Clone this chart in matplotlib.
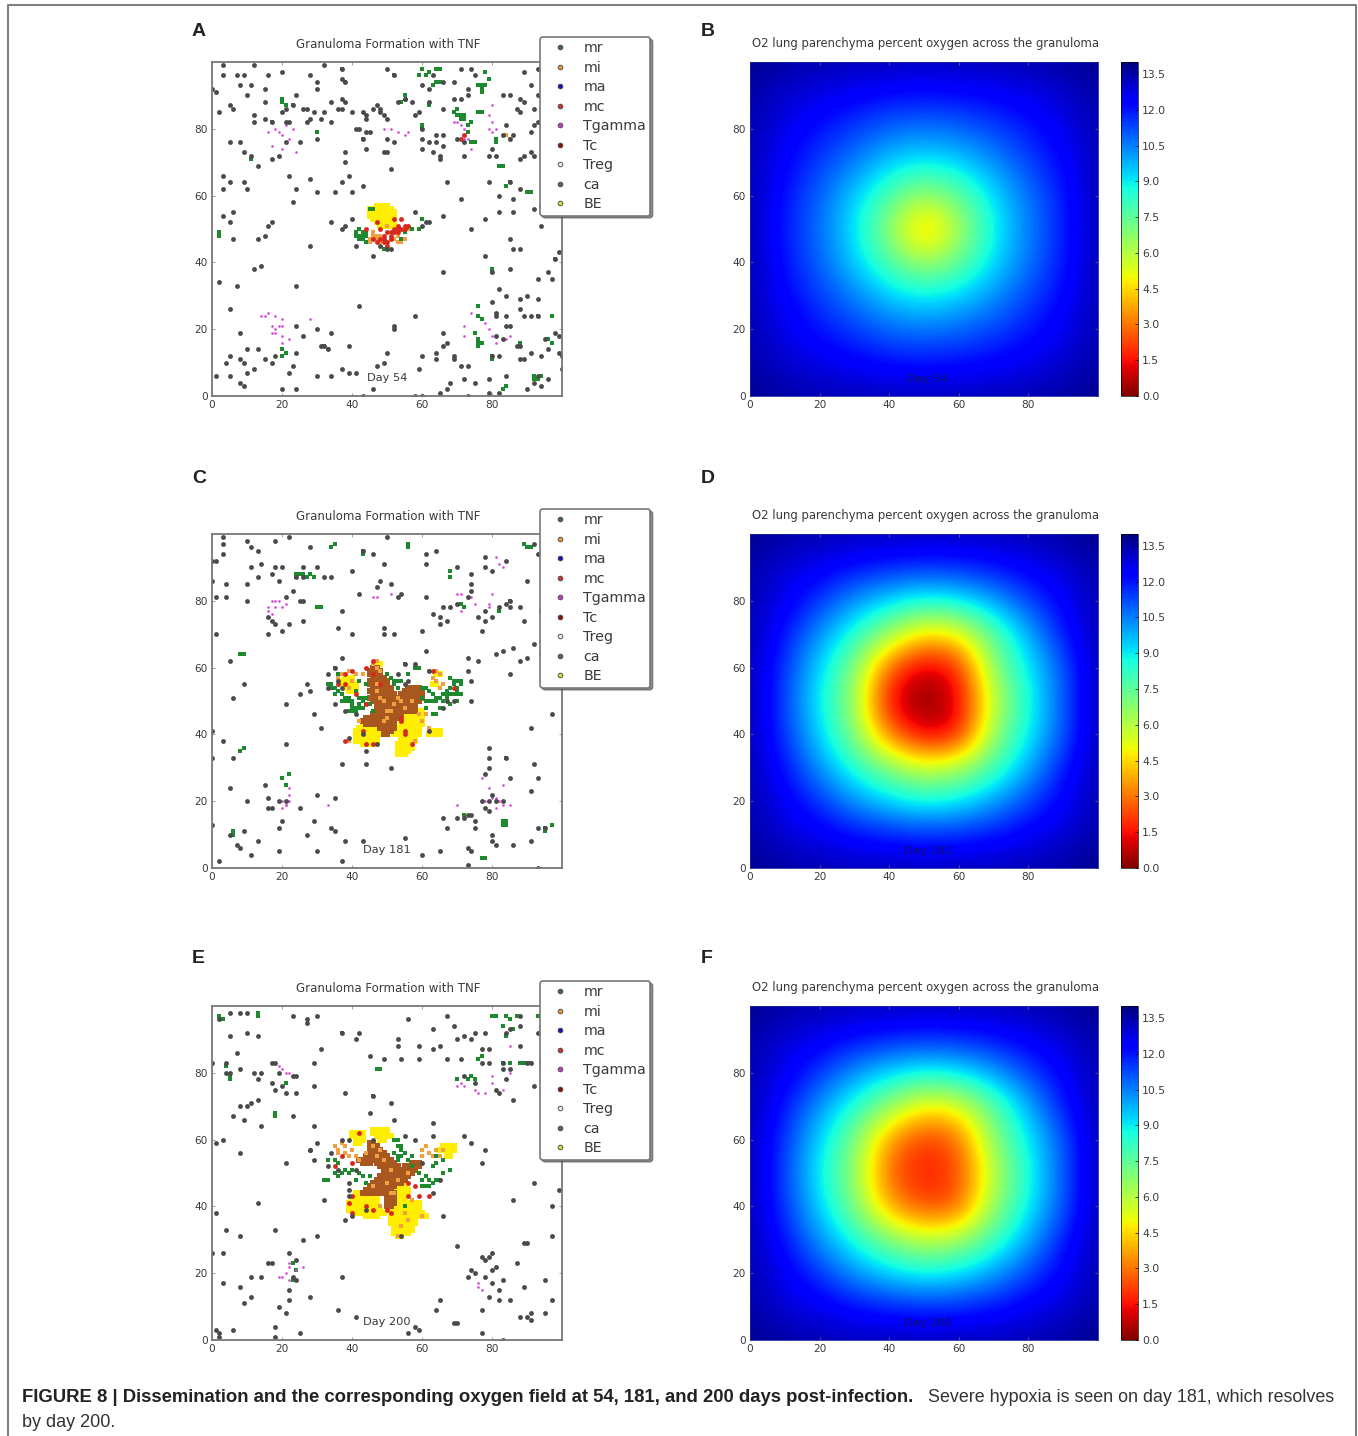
import matplotlib
matplotlib.use("Agg")
import matplotlib.pyplot as plt
from matplotlib.lines import Line2D
import numpy as np

W, H = 1358, 1436

# ---- panel A, day 54: (x, y) of the agents
ca_a = [(3,96),(7,96),(9,96),(16,96),(20,97),(28,96),(8,93),(11,93),(15,92),(0,92),(1,91),(30,94),(30,92),(37,95),(38,94),
        (32,99),(12,99),(3,99),(10,90),(24,90),(5,87),(6,86),(2,85),(15,88),(21,86),(23,87),(20,85),(26,86),(27,86),(29,85),
        (32,85),(34,88),(36,86),(37,86),(37,89),(38,88),(40,85),(43,85),(44,84),(44,83),(12,84),(12,82),(15,83),(17,82),(21,82),
        (22,82),(27,82),(28,83),(31,83),(34,82),(30,77),(41,80),(42,80),(43,77),(44,79),(45,79),(5,76),(8,76),(9,73),(11,72),
        (13,69),(17,71),(19,72),(21,76),(25,76),(38,73),(38,70),(44,74),(39,66),(37,64),(3,66),(5,64),(9,64),(10,62),(3,62),
        (22,66),(28,65),(24,62),(30,61),(35,61),(40,61),(43,63),(23,58),(3,54),(5,52),(6,55),(16,51),(17,52),(6,47),(13,47),
        (15,48),(28,45),(34,52),(37,50),(38,51),(40,53),(12,38),(14,39),(2,34),(7,33),(24,33),(5,26),(8,19),(5,12),(4,10),
        (8,11),(9,10),(10,14),(13,14),(15,11),(12,8),(10,7),(17,10),(18,12),(24,21),(26,18),(24,13),(23,9),(22,7),(1,6),(5,6),
        (8,4),(9,3),(20,2),(24,2),(30,20),(32,15),(31,15),(33,14),(34,19),(39,15),(30,6),(34,6),(37,8),(39,7),(41,7),(42,27),
        (52,20),(52,21),(50,13),(49,10),(47,9),(46,2),(43,0),(58,24),(59,8),(60,12),(64,13),(64,11),(66,19),(66,15),(67,16),
        (69,12),(69,11),(71,9),(73,9),(72,5),(68,4),(67,2),(65,1),(58,0),(60,0),(73,0),(75,4),(79,5),(79,1),(66,37),(74,50),
        (78,42),(78,53),(80,37),(85,38),(85,47),(86,44),(88,44),(82,32),(80,28),(81,25),(81,24),(84,24),(84,21),(81,18),(85,21),
        (83,17),(80,12),(82,12),(84,30),(88,29),(90,30),(88,26),(89,24),(91,24),(93,24),(93,29),(93,35),(97,35),(96,37),(99,43),
        (98,41),(95,17),(96,14),(99,13),(100,12),(99,18),(98,19),(94,12),(91,13),(88,11),(89,11),(87,15),(88,15),(93,6),(92,4),
        (94,3),(96,5),(90,2),(84,6),(82,1),(100,8),(67,64),(71,59),(66,54),(58,55),(60,51),(61,52),(62,52),(79,64),(82,60),
        (82,55),(86,55),(86,59),(85,64),(88,62),(92,56),(94,51),(94,57),(79,72),(81,72),(86,78),(89,72),(91,73),(88,71),(92,72),
        (95,76),(80,74),(85,77),(83,78),(84,81),(87,86),(88,85),(85,90),(83,90),(88,89),(89,88),(91,93),(89,97),(93,98),(93,90),
        (92,86),(91,79),(92,81),(93,82),(50,83),(53,88),(55,89),(57,88),(59,85),(58,84),(60,93),(63,96),(66,94),(62,92),(62,88),
        (66,86),(69,89),(71,89),(69,94),(71,98),(73,92),(73,90),(74,98),(75,96),(60,80),(60,77),(62,76),(64,78),(64,76),(66,78),
        (66,75),(70,77),(72,76),(60,74),(63,73),(65,72),(65,71),(72,72),(47,87),(46,86),(48,86),(48,85),(49,84),(41,45),(46,42),
        (50,44),(48,45),(51,44),(51,68),(50,73),(49,73),(50,77),(52,76),(37,98),(50,98),(52,96),(55,89)]
mr_a = [(20,89),(20,88),(21,87),(23,87),(2,49),(2,48),(11,71),(17,82),(37,98),(38,94),(30,79),(43,77),(20,14),(21,13),(20,12),
        (32,15),(33,14),(52,96),(55,90),(54,88),(59,96),(60,98),(61,96),(62,97),(63,93),(64,94),(65,94),(64,98),(65,98),(60,80),
        (60,81),(62,87),(70,86),(69,85),(70,84),(71,84),(72,84),(71,83),(72,83),(73,81),(74,82),(73,79),(74,76),(75,76),(76,85),
        (77,85),(76,93),(77,93),(78,93),(77,92),(77,91),(78,97),(79,95),(81,77),(81,76),(82,69),(83,69),(85,64),(84,63),(90,61),
        (91,61),(76,27),(76,24),(77,23),(75,19),(76,17),(76,16),(77,16),(76,15),(80,38),(80,37),(80,12),(80,11),(88,16),(93,24),
        (92,6),(93,5),(92,5),(94,6),(84,3),(83,2),(96,17),(97,16),(97,24),(98,41),(60,53),(41,49),(42,50),(43,48),(41,48),(42,48),
        (43,49),(44,48),(42,47),(43,47),(44,49),(44,46),(54,47),(55,49),(57,50),(59,50),(45,56),(46,56),(49,44)]
tg_a = [(18,80),(19,79),(21,81),(20,78),(22,77),(23,80),(16,79),(17,75),(20,74),(24,73),(49,80),(51,80),(53,79),(55,78),(56,79),
        (69,82),(70,82),(71,81),(72,80),(72,77),(73,77),(74,74),(80,82),(81,80),(80,79),(79,80),(79,84),(80,87),(14,24),(15,24),
        (16,25),(18,24),(20,23),(17,21),(18,20),(19,21),(20,21),(17,19),(18,19),(20,18),(22,17),(20,16),(28,23),(72,21),(72,18),
        (78,22),(79,20),(80,18),(81,16),(85,18),(84,17),(74,25)]
mc_a = [(44,50),(46,47),(47,46),(48,50),(49,48),(50,46),(50,45),(51,47),(51,49),(52,50),(53,51),(53,49),(54,50),(55,51),(54,53),
        (52,53),(47,52),(50,49),(49,47),(71,77),(72,78),(49,46),(51,48),(52,49),(48,47),(53,50),(55,50),(56,51)]
mi_a = [(45,47),(46,49),(45,46),(48,46),(53,46),(52,47),(55,47),(50,51),(47,48),(56,50),(85,77),(84,78),(48,48),(46,48),(47,47),(53,48),(54,46)]
be_a = [(47,57,50),(45,56,51),(45,55,52),(45,54,52),(46,53,52),(47,52,52),(48,51,52)]
be_a = [(x, y) for x0, y, x1 in be_a for x in range(x0, x1 + 1)]

# ---- panel C, day 181
ca_c = [(3,97),(3,94),(1,92),(10,98),(11,96),(13,95),(18,98),(22,99),(28,96),(3,99),(14,91),(11,90),(18,90),(20,90),(26,90),(30,90),
        (4,85),(10,85),(13,87),(17,88),(19,86),(0,86),(1,81),(4,81),(10,80),(0,92),(24,87),(26,87),(32,87),(34,87),(25,80),(26,80),
        (21,81),(23,83),(16,75),(17,74),(18,73),(20,71),(22,73),(26,74),(16,70),(1,70),(5,62),(37,77),(40,89),(40,70),(36,72),
        (49,70),(52,70),(49,72),(42,82),(53,81),(54,82),(61,91),(61,94),(64,95),(49,91),(50,99),(61,81),(63,76),(65,73),(65,75),
        (67,74),(60,71),(61,65),(43,95),(46,94),(48,86),(51,85),(47,84),(70,90),(74,88),(74,85),(74,83),(73,81),(70,79),(66,78),
        (68,78),(76,75),(78,74),(80,75),(78,77),(82,78),(85,78),(84,79),(85,80),(88,78),(89,74),(90,86),(93,94),(92,97),(78,93),
        (78,90),(80,89),(84,92),(77,71),(76,62),(73,63),(73,59),(74,56),(74,50),(81,64),(83,65),(86,66),(85,58),(88,62),(90,63),
        (92,67),(94,68),(94,64),(97,46),(91,42),(62,41),(51,30),(44,31),(37,31),(55,55),(56,56),(37,63),(25,52),(27,55),(28,53),
        (21,49),(29,46),(31,42),(39,39),(9,55),(6,51),(3,38),(0,41),(0,33),(6,33),(21,37),(5,24),(15,25),(16,21),(10,20),(16,18),
        (17,18),(19,20),(20,14),(21,20),(25,18),(29,14),(30,22),(35,21),(19,12),(34,12),(35,11),(5,10),(9,11),(7,7),(8,6),(11,4),
        (13,8),(19,5),(27,10),(30,5),(38,8),(43,8),(37,2),(2,2),(0,13),(55,9),(60,4),(65,5),(66,15),(67,12),(70,15),(72,15),
        (74,16),(75,14),(75,12),(74,5),(73,6),(73,1),(78,28),(79,33),(79,30),(79,36),(84,33),(85,27),(80,22),(79,20),(78,18),(77,20),
        (79,17),(81,20),(83,20),(80,10),(80,8),(81,7),(86,7),(91,8),(93,12),(95,12),(93,27),(91,23),(92,31),(93,0),(73,16),
        (33,58),(35,60),(33,54),(36,56),(37,54),(35,49),(38,47),(41,46),(44,35),(43,40),(47,37),(58,61),(55,61),(53,58),(62,59),(69,50),(67,50),(66,48)]
mr_c = [(8,64),(9,64),(34,96),(35,97),(43,95),(43,94),(56,97),(56,96),(24,88),(25,88),(26,88),(27,87),(28,88),(29,87),(24,87),
        (30,78),(31,78),(8,35),(9,36),(20,27),(22,28),(21,25),(6,11),(6,10),(83,14),(84,13),(84,14),(83,13),(84,33),(77,3),(78,3),
        (89,97),(90,96),(91,96),(94,77),(95,77),(97,13),(95,12),(95,11),(68,89),(68,87),(71,79),(72,78),(82,77),(85,80),(72,16),
        (34,54),(35,54),(36,53),(35,52),(37,52),(38,50),(39,51),(40,49),(41,48),(42,49),(39,47),(40,47),(41,47),(43,48),(44,49),
        (45,49),(43,50),(40,50),(37,50),(35,60),(36,58),(42,56),(44,55),(50,58),(51,57),(52,56),(53,56),(54,56),(56,58),(55,61),
        (58,60),(59,60),(60,54),(61,54),(62,50),(63,50),(64,50),(65,51),(66,52),(67,52),(66,50),(67,53),(68,57),(69,56),(70,56),
        (69,55),(70,54),(68,54),(69,52),(70,52),(71,52),(67,51),(63,46),(64,46),(68,49),(70,50),(62,53),(65,48),(41,53),(46,47),
        (33,55),(34,55),(38,51),(39,50),(42,51),(43,51),(44,51),(42,48),(40,48),(52,55),(53,54),(60,51),(61,50),(63,52),(64,51),(61,48),
        (68,52),(70,53),(71,55),(71,56)]
tg_c = [(16,78),(16,77),(17,80),(18,80),(18,78),(19,80),(20,78),(17,76),(21,79),(26,90),(22,24),(22,22),(20,20),(21,19),(20,18),
        (21,19),(22,20),(33,19),(46,81),(47,81),(51,82),(70,82),(71,82),(73,81),(74,81),(74,83),(75,79),(71,77),(80,82),(79,79),
        (79,78),(82,91),(83,90),(81,93),(78,20),(79,24),(80,21),(81,21),(82,20),(81,18),(83,19),(85,19),(77,27),(83,25),(70,19)]
mc_c = [(38,58),(40,59),(44,60),(46,62),(41,52),(38,55),(48,55),(46,58),(43,41),(44,37),(46,37),(55,40),(55,41),(57,37),(54,45),
        (63,59),(69,54),(44,49),(54,44),(36,55),(38,38)]
mi_c = [(36,57),(37,58),(39,59),(41,58),(43,58),(46,61),(47,60),(47,62),(48,59),(40,56),(39,54),(62,59),(64,59),(65,58),(63,57),
        (64,56),(66,55),(65,54),(60,44),(61,46),(62,42),(59,46),(58,38),(42,44),(39,38),(47,55),(52,49),(50,45),(49,50),(53,51),
        (47,53),(48,51),(51,47),(55,48),(57,50),(49,44),(50,47),(54,50)]
be_c = [(38,57,40),(37,56,40),(37,55,41),(38,54,41),(39,53,41),(64,58,65),(63,55,64),(55,47,60),(55,46,60),(54,45,60),(45,44,49),
        (54,44,60),(43,43,49),(54,43,60),(42,42,48),(53,42,59),(41,41,48),(53,41,59),(63,41,65),(41,40,48),(52,40,59),(62,40,65),
        (41,39,47),(54,39,58),(41,38,47),(54,38,58),(43,37,46),(53,37,57),(53,36,57),(53,35,56),(53,34,55),(47,61,48)]
be_c = [(x, y) for x0, y, x1 in be_c for x in range(x0, x1 + 1)]
br_c = [(46,60,47),(45,59,48),(45,58,48),(46,57,49),(45,56,50),(45,55,50),(46,54,51),(56,54,59),(45,53,51),(55,53,60),(46,52,52),
        (54,52,60),(45,51,52),(53,51,60),(46,50,59),(47,49,58),(47,48,58),(47,47,58),(46,46,54),(44,45,53),(43,44,52),(44,43,52),
        (48,42,52),(49,41,51),(49,40,50)]
br_c = [(x, y) for x0, y, x1 in br_c for x in range(x0, x1 + 1)]

# ---- panel E, day 200
ca_e = [(0,83),(2,96),(5,98),(8,98),(10,98),(23,97),(27,96),(27,95),(30,97),(5,91),(10,92),(13,91),(7,86),(4,83),(4,80),(5,80),
        (8,81),(12,80),(14,80),(13,78),(17,83),(18,83),(19,80),(23,79),(24,79),(29,76),(31,87),(17,77),(20,76),(21,74),(24,74),(18,75),
        (13,72),(11,71),(10,70),(8,70),(6,67),(9,66),(14,64),(23,67),(29,64),(1,59),(3,60),(8,56),(21,53),(28,57),(29,54),(30,59),
        (1,38),(13,41),(4,33),(8,31),(18,33),(26,30),(30,31),(0,26),(3,26),(3,17),(8,16),(11,19),(11,13),(9,11),(14,19),(16,23),
        (17,23),(22,26),(23,19),(24,18),(22,15),(22,12),(24,24),(28,13),(37,19),(19,10),(21,8),(18,4),(18,1),(25,2),(6,3),(1,3),
        (2,2),(2,1),(36,9),(41,7),(56,2),(58,4),(59,3),(64,9),(65,12),(69,5),(70,5),(77,9),(77,2),(83,0),(90,7),(91,8),(91,6),(95,8),
        (97,12),(95,18),(97,31),(90,29),(89,29),(97,40),(99,45),(92,47),(86,42),(70,28),(73,19),(75,20),(74,21),(78,19),(80,21),(81,22),
        (79,25),(78,24),(80,26),(77,25),(83,18),(82,15),(80,17),(79,13),(82,12),(85,12),(87,23),(89,16),(88,7),(66,37),(77,53),(78,57),
        (72,61),(74,59),(63,65),(63,61),(58,60),(55,61),(45,68),(51,71),(52,66),(46,73),(38,74),(42,92),(41,90),(37,92),(45,85),(49,84),
        (54,84),(53,90),(53,88),(56,96),(59,88),(59,84),(63,87),(63,93),(65,88),(67,84),(67,97),(69,94),(70,90),(71,84),(72,91),(74,90),
        (75,92),(78,92),(77,87),(79,87),(79,83),(83,83),(83,81),(85,81),(84,92),(85,93),(88,97),(88,94),(88,88),(91,83),(92,76),(93,92),
        (94,94),(94,83),(90,83),(86,72),(75,77),(72,79),(77,83),(84,78),(82,74),(81,75),(29,83),(37,60),(39,60),(28,57),
        (39,47),(39,45),(39,43),(38,36),(40,37),(44,39),(54,31),(32,42),(63,44),(65,48),(34,56),(33,52),(36,51),(41,51),(46,60),(60,53)]
mr_e = [(2,97),(3,96),(13,98),(13,97),(18,68),(18,67),(37,92),(4,82),(5,79),(5,78),(21,77),(80,97),(81,97),(84,97),(85,96),(83,94),
        (87,97),(93,97),(86,93),(84,91),(76,84),(77,85),(83,83),(85,83),(88,83),(89,83),(90,83),(91,83),(73,78),(74,79),(75,78),(70,78),
        (47,81),(48,81),(46,73),(23,18),(24,21),(23,23),(36,53),(35,54),(33,54),(38,51),(36,49),(40,51),(41,48),(44,47),(42,50),(45,49),
        (32,48),(33,48),(52,60),(53,60),(53,58),(54,57),(52,56),(53,55),(54,55),(53,54),(55,56),(57,55),(59,50),(60,48),(61,46),(62,46),
        (64,48),(65,48),(63,52),(64,53),(66,54),(68,51),(66,50),(64,55),(56,54),(55,40),(61,49),(62,48),(63,47),(60,46),(57,52),(54,58),
        (35,50),(37,50),(39,50),(43,49)]
tg_e = [(18,83),(19,82),(20,81),(21,80),(22,80),(20,19),(21,20),(22,22),(24,21),(26,22),(22,18),(19,19),(22,23),(70,76),(71,77),(72,76),
        (75,75),(76,74),(80,77),(80,79),(78,74),(85,88),(83,75),(76,16),(77,15),(76,17),(85,80)]
mc_e = [(35,52),(40,43),(39,41),(40,38),(44,40),(46,39),(50,39),(51,38),(56,43),(58,46),(59,43),(40,53),(37,55),(56,47),(42,62),(62,43)]
mi_e = [(35,58),(36,57),(38,56),(38,58),(40,57),(41,55),(42,54),(44,56),(46,58),(48,57),(60,57),(62,56),(65,55),(66,57),(60,55),(52,44),
        (57,42),(55,38),(56,36),(54,34),(53,31),(60,37),(46,46),(48,40),(49,54),(51,51),(53,48),(56,50),(50,47),(47,55),(51,44),(36,56),
        (37,59),(39,55),(61,58),(63,55),(64,57)]
be_e = [(40,62,43),(40,61,43),(41,60,43),(41,59,42),(46,63,50),(46,62,50),(47,61,51),(48,60,49),(66,58,69),(65,57,69),(67,56,68),
        (67,55,68),(53,46,55),(52,45,56),(41,44,47),(52,44,56),(41,43,47),(52,43,55),(40,42,47),(52,42,55),(39,41,47),(53,41,59),
        (39,40,47),(52,40,59),(39,39,48),(51,39,59),(41,38,49),(51,38,60),(44,37,47),(51,37,61),(51,36,58),(51,35,58),(52,34,57),
        (52,33,57),(52,32,56),(53,31,54)]
be_e = [(x, y) for x0, y, x1 in be_e for x in range(x0, x1 + 1)]
br_e = [(45,59,46),(45,58,47),(45,57,48),(46,56,49),(44,55,50),(42,54,51),(43,53,45),(47,53,52),(57,53,59),(48,52,53),(55,52,59),
        (49,51,58),(49,50,57),(48,49,56),(47,48,55),(46,47,54),(45,46,52),(44,45,51),(43,44,49),(50,44,52),(50,43,52),(50,42,52),
        (50,41,52),(50,40,51)]
br_e = [(x, y) for x0, y, x1 in br_e for x in range(x0, x1 + 1)]

# ---- oxygen fields, sampled every 10 units (rows y=0..100, columns x=0..100)
o2_b = [[13.8,13.5,13.4,13.3,13.3,13.3,13.3,13.3,13.4,13.5,13.8],
        [13.5,13.0,12.7,12.4,12.1,12.0,12.1,12.3,12.6,13.0,13.5],
        [13.4,12.7,12.0,11.4,10.8,10.6,10.8,11.3,11.9,12.6,13.4],
        [13.4,12.3,11.4,10.5,9.4,8.9,9.3,10.2,11.3,12.2,13.4],
        [13.4,12.0,10.9,9.4,7.8,6.3,7.4,9.2,10.6,11.9,13.4],
        [13.4,11.9,10.7,9.1,6.6,3.4,6.1,8.8,10.5,11.8,13.4],
        [13.4,12.0,10.9,9.4,7.8,6.3,7.4,9.2,10.6,11.9,13.4],
        [13.4,12.3,11.4,10.5,9.4,8.9,9.3,10.2,11.3,12.2,13.4],
        [13.4,12.7,12.0,11.4,10.8,10.6,10.8,11.3,11.9,12.6,13.4],
        [13.5,13.0,12.7,12.4,12.1,12.0,12.1,12.3,12.6,13.0,13.5],
        [13.8,13.5,13.4,13.3,13.3,13.3,13.3,13.3,13.4,13.5,13.8]]
o2_d = [[13.8,13.5,13.4,13.3,13.3,13.3,13.3,13.3,13.4,13.5,13.8],
        [13.5,12.9,12.6,12.1,11.8,11.6,11.7,12.0,12.5,12.9,13.5],
        [13.4,12.6,11.5,10.2,9.3,8.7,9.0,10.0,11.3,12.4,13.4],
        [13.4,12.0,10.2,8.5,6.9,5.6,6.3,7.9,9.8,11.9,13.4],
        [13.4,11.5,9.3,7.0,3.0,0.9,1.3,6.6,8.9,11.0,13.4],
        [13.4,11.3,8.9,6.6,1.1,0.0,1.0,5.8,8.6,11.0,13.4],
        [13.4,11.5,9.3,7.0,2.6,0.8,1.6,6.8,9.0,11.0,13.4],
        [13.4,12.0,10.2,8.5,6.5,4.4,5.0,7.6,9.8,11.9,13.4],
        [13.4,12.6,11.5,10.2,9.3,8.7,9.0,10.0,11.3,12.4,13.4],
        [13.5,12.9,12.6,12.1,11.8,11.6,11.7,12.0,12.5,12.9,13.5],
        [13.8,13.5,13.4,13.3,13.3,13.3,13.3,13.3,13.4,13.5,13.8]]
o2_f = [[13.8,13.5,13.4,13.3,13.3,13.3,13.3,13.3,13.4,13.5,13.8],
        [13.5,12.9,12.6,12.1,11.8,11.6,11.7,12.0,12.5,12.9,13.5],
        [13.4,12.6,11.5,10.2,9.3,8.8,9.1,10.0,11.3,12.4,13.4],
        [13.4,12.0,10.2,8.6,7.0,5.8,6.4,8.0,9.8,11.9,13.4],
        [13.4,11.5,9.3,7.1,3.6,2.2,2.4,6.6,8.9,11.0,13.4],
        [13.4,11.3,8.9,6.7,2.6,1.6,2.2,5.9,8.6,11.0,13.4],
        [13.4,11.5,9.3,7.1,3.4,2.0,2.6,6.8,9.0,11.0,13.4],
        [13.4,12.0,10.2,8.5,6.7,4.8,5.3,7.6,9.8,11.9,13.4],
        [13.4,12.6,11.5,10.2,9.3,8.8,9.1,10.0,11.3,12.4,13.4],
        [13.5,12.9,12.6,12.1,11.8,11.6,11.7,12.0,12.5,12.9,13.5],
        [13.8,13.5,13.4,13.3,13.3,13.3,13.3,13.3,13.4,13.5,13.8]]

legend_labels = ["mr", "mi", "ma", "mc", "Tgamma", "Tc", "Treg", "ca", "BE"]
legend_colors = ["#3c6a48", "#e8963c", "#1010c0", "#d8322a", "#c83cc8", "#8c1010", "#e8e8e8", "#4a6a50", "#d8d83c"]
ticks = [0, 20, 40, 60, 80]
cbar_ticks = [0.0, 1.5, 3.0, 4.5, 6.0, 7.5, 9.0, 10.5, 12.0, 13.5]

DARK = "#4a4a4a"
GREEN = "#1d8a30"
GRAY_TEXT = "#3a3a3a"


def axes_px(fig, x0, y0, x1, y1):
    """Axes from pixel corners, y measured from the top of the image."""
    return fig.add_axes([x0 / W, 1 - y1 / H, (x1 - x0) / W, (y1 - y0) / H])


def style_axes(ax, frame):
    ax.set_xlim(0, 100)
    ax.set_ylim(0, 100)
    ax.set_xticks(ticks)
    ax.set_yticks(ticks)
    ax.tick_params(labelsize=7.6, labelcolor=GRAY_TEXT, length=2.5, width=0.5, color="#777777",
                   direction="in", top=True, right=True, pad=3.2)
    for s in ax.spines.values():
        s.set_color(frame)
        s.set_linewidth(1.3 if frame == "#777777" else 0.6)


def draw_field(fig, top, values, day):
    ax = axes_px(fig, 750, top, 1098, top + 334)
    im = ax.imshow(values, origin="lower", extent=(-5, 105, -5, 105), cmap="jet_r", vmin=0, vmax=14,
                   interpolation="bicubic", aspect="auto")
    style_axes(ax, "#2020a0")
    ax.text(51, 5, day, ha="center", va="center", fontsize=8.2, color="#101060")
    fig.text(925 / W, 1 - (top - 19) / H, "O2 lung parenchyma percent oxygen across the granuloma",
             ha="center", va="center", fontsize=8.4, color=GRAY_TEXT)
    cax = axes_px(fig, 1121, top, 1138, top + 334)
    cb = fig.colorbar(im, cax=cax, ticks=cbar_ticks)
    cb.ax.set_yticklabels(["%.1f" % t for t in cbar_ticks])
    cb.ax.tick_params(labelsize=7.8, labelcolor=GRAY_TEXT, length=2, width=0.5, direction="in", pad=3)
    cb.outline.set_linewidth(0.5)


def draw_agents(fig, top, ca, mr, tg, mc, mi, be, br, day):
    ax = axes_px(fig, 212, top, 562, top + 334)
    ms = 3.5
    for pts, color, size, shape in [(be, "#ffee00", 3.8, "s"), (br, "#a8581e", 3.8, "s"), (mi, "#f0a040", 3.0, "s"),
                                    (mr, GREEN, ms, "s"), (mc, "#d8281c", ms, "o"), (tg, "#d848d8", 1.9, "o"),
                                    (ca, DARK, ms, "o")]:
        if pts:
            xy = np.array(pts)
            ax.plot(xy[:, 0], xy[:, 1], linestyle="none", marker=shape, ms=size, mew=0, color=color, clip_on=True)
    style_axes(ax, "#777777")
    ax.text(50, 5.3, day, ha="center", va="center", fontsize=8.2, color=GRAY_TEXT)
    fig.text(388 / W, 1 - (top - 18) / H, "Granuloma Formation with TNF", ha="center", va="center",
             fontsize=8.5, color=GRAY_TEXT)
    handles = [Line2D([], [], linestyle="none", marker="o", ms=3.4, mew=0.6, mec="#444444", color=c) for c in legend_colors]
    leg = ax.legend(handles, legend_labels, loc="upper left", bbox_to_anchor=(540 / W, 1 - (top - 25) / H),
                    bbox_transform=fig.transFigure, numpoints=1, fontsize=10.2, labelspacing=0.39, handlelength=2.2,
                    handletextpad=0.57, borderpad=0.3, borderaxespad=0, fancybox=True,
                    shadow={"ox": 1.5, "oy": -1.5, "alpha": 0.6}, labelcolor=GRAY_TEXT, framealpha=1)
    leg.get_frame().set_edgecolor("#777777")
    leg.get_frame().set_linewidth(1.2)


fig = plt.figure(figsize=(W / 100, H / 100), dpi=100, facecolor="white")

draw_agents(fig, 62, ca_a, mr_a, tg_a, mc_a, mi_a, be_a, [], "Day 54")
draw_agents(fig, 534, ca_c, mr_c, tg_c, mc_c, mi_c, be_c, br_c, "Day 181")
draw_agents(fig, 1006, ca_e, mr_e, tg_e, mc_e, mi_e, be_e, br_e, "Day 200")
draw_field(fig, 62, o2_b, "Day 54")
draw_field(fig, 534, o2_d, "Day 181")
draw_field(fig, 1006, o2_f, "Day 200")

# panel letters
for letter, px, py in [("A", 192, 31.5), ("B", 701, 31.5), ("C", 192, 478.5), ("D", 701, 478.5), ("E", 192, 958.5), ("F", 701, 958.5)]:
    fig.text(px / W, 1 - py / H, letter, fontsize=14, fontweight="bold", family="Liberation Sans",
             color="#222222", ha="left", va="center")

# outer frame, open at the bottom
fig.add_artist(Line2D([8 / W, 8 / W, 1356 / W, 1356 / W], [0, 1 - 5 / H, 1 - 5 / H, 0], color="#808080", lw=1.5))

# caption
fig.text(22 / W, 1 - 1402 / H, "FIGURE 8 | Dissemination and the corresponding oxygen field at 54, 181, and 200 days post-infection.",
         fontsize=13.34, fontweight="bold", family="Liberation Sans", color="#222222", va="baseline")
fig.text(928 / W, 1 - 1402 / H, "Severe hypoxia is seen on day 181, which resolves", fontsize=12.87,
         family="Liberation Sans", color="#333333", va="baseline")
fig.text(22 / W, 1 - 1427 / H, "by day 200.", fontsize=13, family="Liberation Sans", color="#333333", va="baseline")

fig.savefig("out.png", dpi=100)
